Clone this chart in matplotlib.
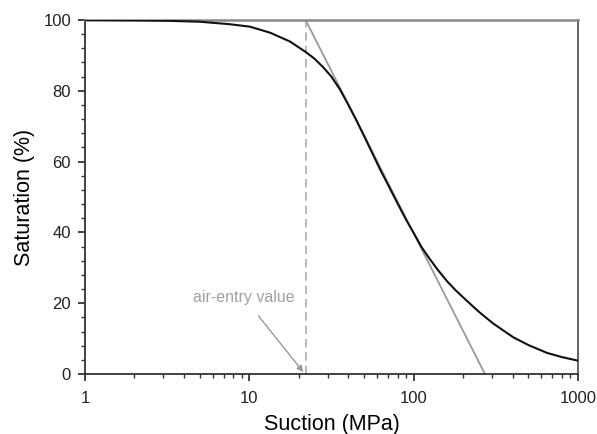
import numpy as np
import matplotlib.pyplot as plt
from matplotlib.ticker import MultipleLocator

plt.rcParams['font.family'] = ['Liberation Sans', 'DejaVu Sans']

# retention curve
suction = [1, 2, 3, 5, 7.6, 10.1, 13.4, 17.7, 22.3, 25, 28.1, 31.6, 35.6,
           40, 44.7, 50, 62.4, 82.6, 90, 100, 112, 125, 140, 160, 180, 201,
           230, 254, 305, 404, 500, 648, 800, 1000]
saturation = [100, 99.9, 99.8, 99.5, 98.8, 98.1, 96.4, 93.9, 90.8, 89.0,
              86.7, 84.0, 80.4, 76.1, 71.8, 67.2, 57.9, 46.9, 43.6, 39.9,
              35.8, 32.6, 29.5, 26.2, 23.7, 21.6, 19.1, 17.3, 14.3, 10.4,
              8.2, 6.0, 4.8, 3.8]

# tangent line and air-entry value
tangent_x = [22, 272]
tangent_y = [100, 0]
air_entry = 22

fig = plt.figure(figsize=(5.97, 4.34), dpi=100)
ax = fig.add_axes([0.1424, 0.138, 0.8256, 0.816])

ax.plot(suction, saturation, color='#111111', lw=1.5, zorder=3)
ax.plot(tangent_x, tangent_y, color='#9a9a9a', lw=1.3, zorder=2)
ax.plot([air_entry, air_entry], [0, 100], color='#aaaaaa', lw=1.2,
        ls=(0, (5, 3)), zorder=2)

ax.annotate('air-entry value', xy=(21.3, 0.6), xytext=(9.3, 21.5),
            ha='center', va='center', fontsize=11.5, color='#a0a0a0',
            arrowprops=dict(arrowstyle='-|>', color='#999999', lw=1.0,
                            shrinkA=7, shrinkB=0, mutation_scale=9))

ax.set_xscale('log')
ax.set_xlim(1, 1000)
ax.set_ylim(0, 100)
ax.set_xticks([1, 10, 100, 1000])
ax.set_xticklabels(['1', '10', '100', '1000'])
ax.yaxis.set_major_locator(MultipleLocator(20))
ax.yaxis.set_minor_locator(MultipleLocator(4))

ax.tick_params(which='major', direction='out', length=5, width=1.2,
               labelsize=12, colors='#222222', pad=5)
ax.tick_params(which='minor', direction='out', length=3, width=1.0,
               colors='#333333')
ax.tick_params(axis='x', which='major', pad=7)

for s in ['left', 'bottom']:
    ax.spines[s].set_color('#333333')
    ax.spines[s].set_linewidth(1.3)
ax.spines['top'].set_color('#888888')
ax.spines['top'].set_linewidth(1.8)
ax.spines['right'].set_color('#555555')
ax.spines['right'].set_linewidth(1.3)

ax.set_xlabel('Suction (MPa)', fontsize=15.5, labelpad=6)
ax.set_ylabel('Saturation (%)', fontsize=15.5, labelpad=6)

fig.savefig('out.png', dpi=100)
